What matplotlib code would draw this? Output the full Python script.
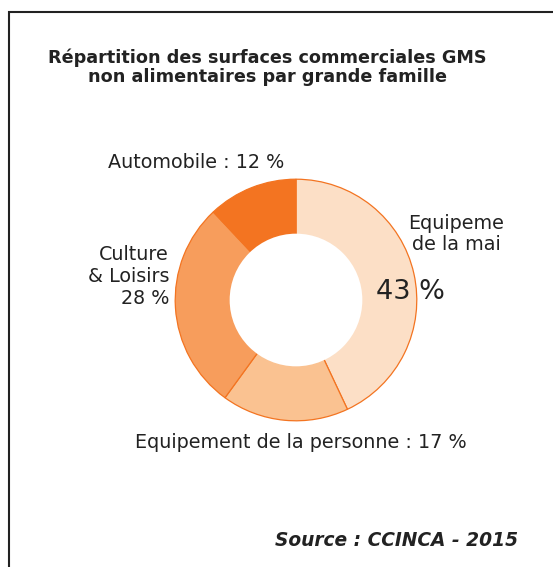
import matplotlib.pyplot as plt
from matplotlib.patches import Rectangle, Circle

# Data
categories = ["Equipement de la maison", "Equipement de la personne",
              "Culture & Loisirs", "Automobile"]
values = [43, 17, 28, 12]
colors = ["#FCDFC6", "#FAC291", "#F79D5C", "#F37421"]

W, H = 553, 567
fig = plt.figure(figsize=(W / 100, H / 100), dpi=100)
fig.patch.set_facecolor("white")

# frame (runs off the right and bottom edges)
fig.patches.append(Rectangle((9 / W, -0.05), 1.1, 1 - 12 / H + 0.05,
                             transform=fig.transFigure, fill=False,
                             edgecolor="#222222", linewidth=1.5))

# donut axes: center (296, 300), outer radius 122 px, inner 67 px
cx, cy, r = 296, 300, 122
inner = 67 / 122
ax = fig.add_axes([(cx - r) / W, (H - cy - r) / H, 2 * r / W, 2 * r / H])
ax.pie(values, colors=colors, startangle=90, counterclock=False,
       radius=1.0,
       wedgeprops=dict(edgecolor="#F37421", linewidth=0.9))
# hole without outline
ax.add_patch(Circle((0, 0), inner, facecolor="white", edgecolor="none", zorder=5))
ax.set_xlim(-1.01, 1.01)
ax.set_ylim(-1.01, 1.01)
ax.set_aspect("equal")
ax.axis("off")

txt = "#222222"
def put(x, y, s, **kw):
    fig.text(x / W, 1 - y / H, s, color=txt, **kw)

put(267, 67, "Répartition des surfaces commerciales GMS\nnon alimentaires par grande famille",
    ha="center", va="center", fontsize=12.7, fontweight="bold", linespacing=1.1)

put(196, 163, "Automobile : 12 %", ha="center", va="center", fontsize=13.8)
put(456, 234, "Equipeme\nde la mai", ha="center", va="center", fontsize=13.8,
    linespacing=1.15)
put(410, 292, "43 %", ha="center", va="center", fontsize=19.5)
put(169, 277, "Culture\n& Loisirs\n28 %", ha="right", va="center", fontsize=13.8,
    linespacing=1.2)
put(301, 442, "Equipement de la personne : 17 %", ha="center", va="center",
    fontsize=13.8)
put(518, 541, "Source : CCINCA - 2015", ha="right", va="center", fontsize=13.4,
    fontweight="bold", fontstyle="italic")

fig.savefig("out.png", dpi=100)
